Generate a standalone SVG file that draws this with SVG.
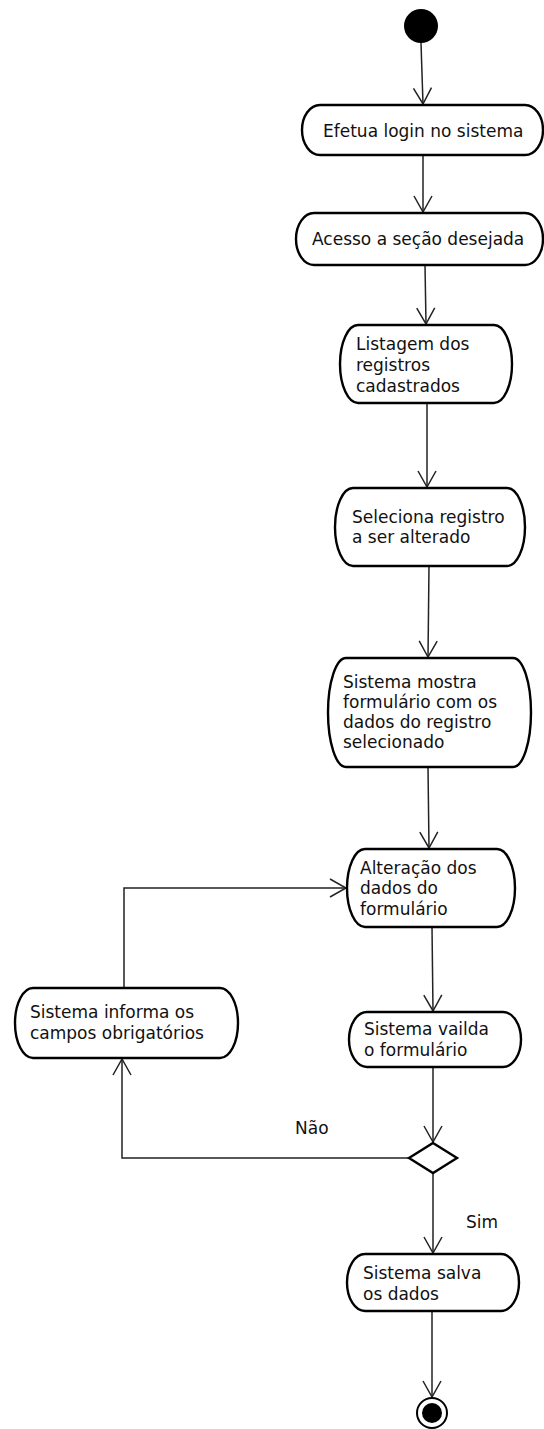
<svg xmlns="http://www.w3.org/2000/svg" width="544" height="1429" viewBox="0 0 544 1429">
<defs>
<style>
.node{fill:#fff;stroke:#000;stroke-width:2.4}
.t{font-family:"DejaVu Sans",sans-serif;font-size:17px;fill:#111}
.c{fill:none;stroke:#222;stroke-width:1.5}
</style>
<marker id="arr" markerUnits="userSpaceOnUse" markerWidth="20" markerHeight="22" viewBox="-18 -11 19 22" refX="0" refY="0" orient="auto" overflow="visible">
<path d="M-16,-9 L0,0 L-16,9" fill="none" stroke="#222" stroke-width="1.5"/>
</marker>
</defs>
<rect width="544" height="1429" fill="#fff"/>
<g id="connectors">
<path class="c" d="M421,43 L423,104" marker-end="url(#arr)"/>
<path class="c" d="M423,155 L423,212" marker-end="url(#arr)"/>
<path class="c" d="M425,265 L426,324" marker-end="url(#arr)"/>
<path class="c" d="M427,403 L427,487" marker-end="url(#arr)"/>
<path class="c" d="M429,566 L428,657" marker-end="url(#arr)"/>
<path class="c" d="M428,767 L429,848" marker-end="url(#arr)"/>
<path class="c" d="M432,927 L433,1011" marker-end="url(#arr)"/>
<path class="c" d="M433,1067 L433,1142" marker-end="url(#arr)"/>
<path class="c" d="M433,1173 L433,1253" marker-end="url(#arr)"/>
<path class="c" d="M432,1311 L432,1397" marker-end="url(#arr)"/>
<path class="c" d="M409,1158 H122 V1059" marker-end="url(#arr)"/>
<path class="c" d="M124,988 V888 H346" marker-end="url(#arr)"/>
<text class="t" x="295" y="1134">Não</text>
<text class="t" x="466" y="1228">Sim</text>
</g>
<g id="start"><circle cx="421" cy="26" r="17" fill="#000"/></g>
<g id="n1">
<path class="node" d="M320,105 H525 A18,25 0 0 1 525,155 H320 A18,25 0 0 1 320,105 Z"/>
<text class="t" x="323" y="137">Efetua login no sistema</text>
</g>
<g id="n2">
<path class="node" d="M314,213 H525 A18,26 0 0 1 525,265 H314 A18,26 0 0 1 314,213 Z"/>
<text class="t" x="312" y="245">Acesso a seção desejada</text>
</g>
<g id="n3">
<path class="node" d="M358,325 H494 A18,39 0 0 1 494,403 H358 A18,39 0 0 1 358,325 Z"/>
<text class="t" x="356" y="350">Listagem dos</text>
<text class="t" x="356" y="371">registros</text>
<text class="t" x="356" y="392">cadastrados</text>
</g>
<g id="n4">
<path class="node" d="M353,488 H507 A18,39 0 0 1 507,566 H353 A18,39 0 0 1 353,488 Z"/>
<text class="t" x="352" y="523">Seleciona registro</text>
<text class="t" x="352" y="543">a ser alterado</text>
</g>
<g id="n5">
<path class="node" d="M346,658 H513 A18,54.5 0 0 1 513,767 H346 A18,54.5 0 0 1 346,658 Z"/>
<text class="t" x="343" y="688">Sistema mostra</text>
<text class="t" x="343" y="708">formulário com os</text>
<text class="t" x="343" y="728">dados do registro</text>
<text class="t" x="343" y="748">selecionado</text>
</g>
<g id="n6">
<path class="node" d="M365,849 H497 A18,39 0 0 1 497,927 H365 A18,39 0 0 1 365,849 Z"/>
<text class="t" x="360" y="874">Alteração dos</text>
<text class="t" x="360" y="894">dados do</text>
<text class="t" x="360" y="915">formulário</text>
</g>
<g id="n7">
<path class="node" d="M33,988 H220 A18,35 0 0 1 220,1058 H33 A18,35 0 0 1 33,988 Z"/>
<text class="t" x="30" y="1018">Sistema informa os</text>
<text class="t" x="30" y="1039">campos obrigatórios</text>
</g>
<g id="n8">
<path class="node" d="M367,1012 H503 A18,27.5 0 0 1 503,1067 H367 A18,27.5 0 0 1 367,1012 Z"/>
<text class="t" x="364" y="1035">Sistema vailda</text>
<text class="t" x="364" y="1056">o formulário</text>
</g>
<g id="decision">
<path class="node" d="M433,1143 L457,1158 L433,1173 L409,1158 Z"/>
</g>
<g id="n9">
<path class="node" d="M365,1254 H501 A18,28.5 0 0 1 501,1311 H365 A18,28.5 0 0 1 365,1254 Z"/>
<text class="t" x="363" y="1279">Sistema salva</text>
<text class="t" x="363" y="1300">os dados</text>
</g>
<g id="end">
<circle cx="432" cy="1413" r="15" fill="#fff" stroke="#000" stroke-width="2"/>
<circle cx="432" cy="1413" r="10" fill="#000"/>
</g>
</svg>
